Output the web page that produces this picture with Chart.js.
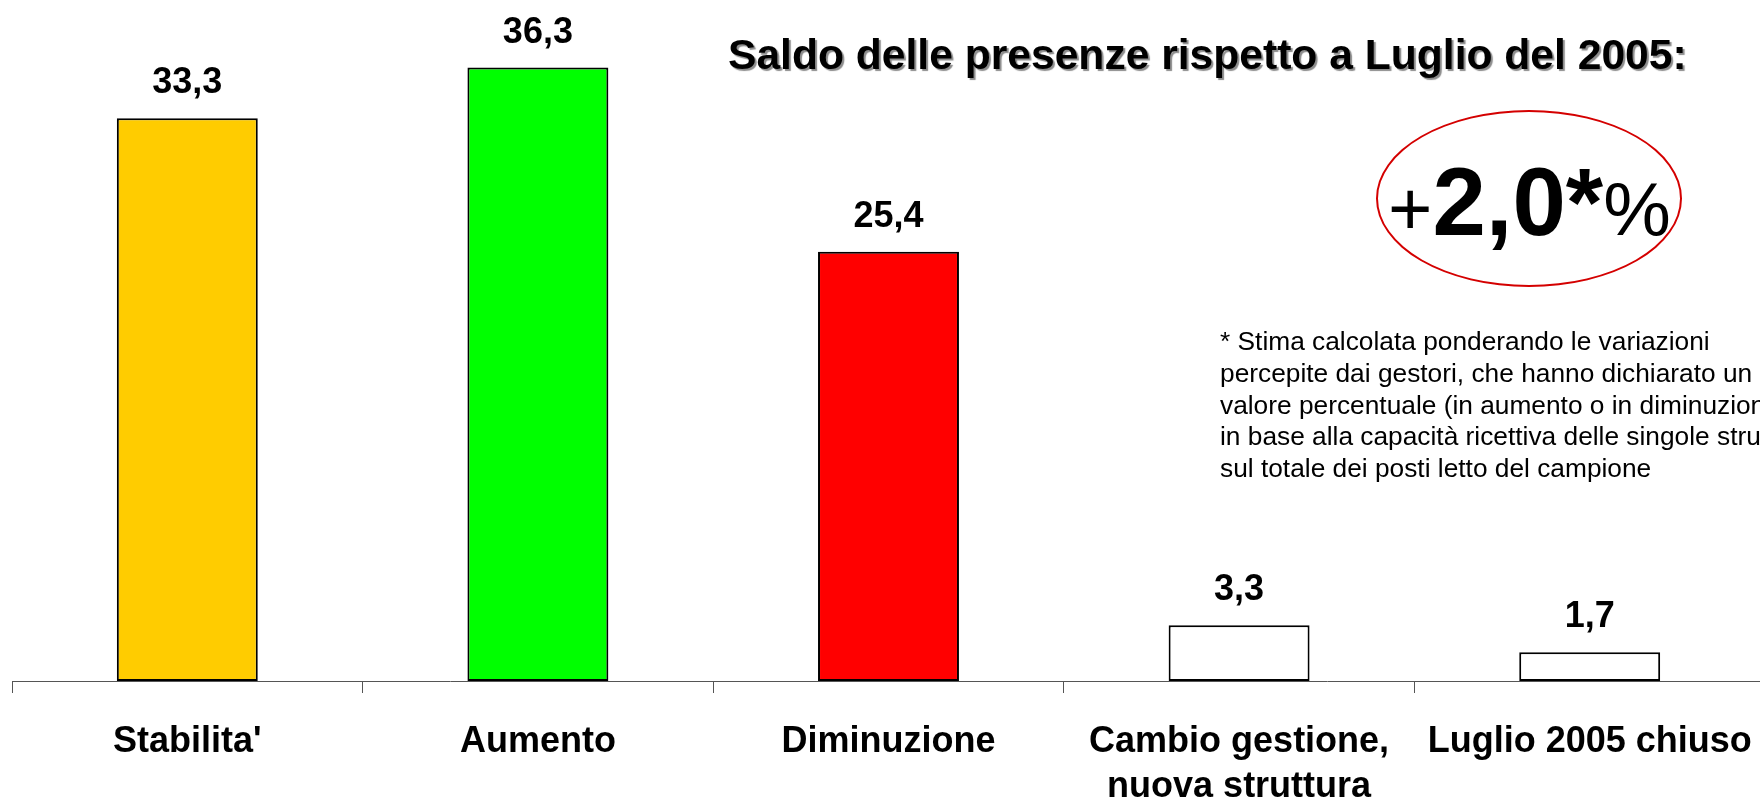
<!DOCTYPE html>
<html lang="it">
<head>
<meta charset="utf-8">
<title>Saldo delle presenze rispetto a Luglio del 2005</title>
<script src="https://cdn.jsdelivr.net/npm/chart.js@4/dist/chart.umd.min.js"></script>
<style>
  html, body { margin: 0; padding: 0; background: #fff; overflow: hidden; width: 1760px; height: 801px; }
  #wrap { position: absolute; left: 0; top: 0; width: 1765px; height: 801px; }
  canvas { position: absolute; left: 0; top: 0; }
  .title {
    position: absolute; left: 728px; top: 33px;
    font: bold 42.6px "Liberation Sans", Arial, sans-serif; line-height: 42px;
    color: #000; white-space: nowrap;
    text-shadow: 2px 2px 1px #8c8c8c;
  }
  .oval {
    position: absolute; left: 1376px; top: 110px; width: 302px; height: 173px;
    border: 2px solid #d40000; border-radius: 50%;
  }
  .big {
    position: absolute; left: 1388px; top: 154px;
    font-family: "Liberation Sans", Arial, sans-serif; line-height: 96px;
    white-space: nowrap; color: #000;
  }
  .big .thin { font-size: 76px; font-weight: normal; line-height: 0; }
  .big .num { font-size: 96px; font-weight: bold; }
  .note {
    position: absolute; left: 1220px; top: 326px;
    font: 26.3px "Liberation Sans", Arial, sans-serif; line-height: 31.8px;
    color: #000; white-space: nowrap;
  }
</style>
</head>
<body>
<div id="wrap">
  <canvas id="chart" width="1765" height="801"></canvas>
  <div class="title">Saldo delle presenze rispetto a Luglio del 2005:</div>
  <div class="oval"></div>
  <div class="big"><span class="thin">+</span><span class="num">2,0*</span><span class="thin">%</span></div>
  <div class="note">
    * Stima calcolata ponderando le variazioni<br>
    percepite dai gestori, che hanno dichiarato un<br>
    valore percentuale (in aumento o in diminuzione)<br>
    in base alla capacità ricettiva delle singole strutture<br>
    sul totale dei posti letto del campione
  </div>
</div>
<script>
// categorie e valori (%)
const categories = ["Stabilita'", "Aumento", "Diminuzione", ["Cambio gestione,", "nuova struttura"], "Luglio 2005 chiuso"];
const values = [33.3, 36.3, 25.4, 3.3, 1.7];

const BAR_COLORS = ["#ffcc00", "#00ff00", "#ff0000", "#ffffff", "#ffffff"];
const FONT = '"Liberation Sans", Arial, sans-serif';

function itNumber(v) {
  return v.toFixed(1).replace(".", ",");
}

// etichette sopra le barre
const valueLabels = {
  id: "valueLabels",
  afterDatasetsDraw(chart) {
    const { ctx } = chart;
    const meta = chart.getDatasetMeta(0);
    ctx.save();
    ctx.font = `bold 36px ${FONT}`;
    ctx.fillStyle = "#000";
    ctx.textAlign = "center";
    ctx.textBaseline = "alphabetic";
    meta.data.forEach((bar, i) => {
      ctx.fillText(itNumber(values[i]), bar.x, bar.y - 25);
    });
    ctx.restore();
  },
};

new Chart(document.getElementById("chart"), {
  type: "bar",
  data: {
    labels: categories,
    datasets: [{
      data: values,
      backgroundColor: BAR_COLORS,
      borderColor: "#000",
      borderWidth: 2,
      borderSkipped: false,
      categoryPercentage: 1,
      barPercentage: 0.402,
    }],
  },
  options: {
    responsive: false,
    animation: false,
    layout: { padding: { left: 12, top: 5, right: 0, bottom: 0 } },
    plugins: { legend: { display: false }, tooltip: { enabled: false } },
    scales: {
      y: { display: false, min: 0, max: 40 },
      x: {
        offset: true,
        grid: { offset: true, drawOnChartArea: false, drawTicks: true, tickLength: 12, color: "#555", lineWidth: 1 },
        border: { display: true, color: "#555", width: 1 },
        ticks: {
          color: "#000",
          padding: 27,
          maxRotation: 0,
          autoSkip: false,
          font: { family: FONT, size: 36, weight: "bold", lineHeight: 1.24 },
        },
        afterFit(axis) {
          axis.height = 120;
          // the labels fit inside their categories, no extra side padding
          axis.paddingLeft = 0;
          axis.paddingRight = 0;
        },
      },
    },
  },
  plugins: [valueLabels],
});
</script>
</body>
</html>
